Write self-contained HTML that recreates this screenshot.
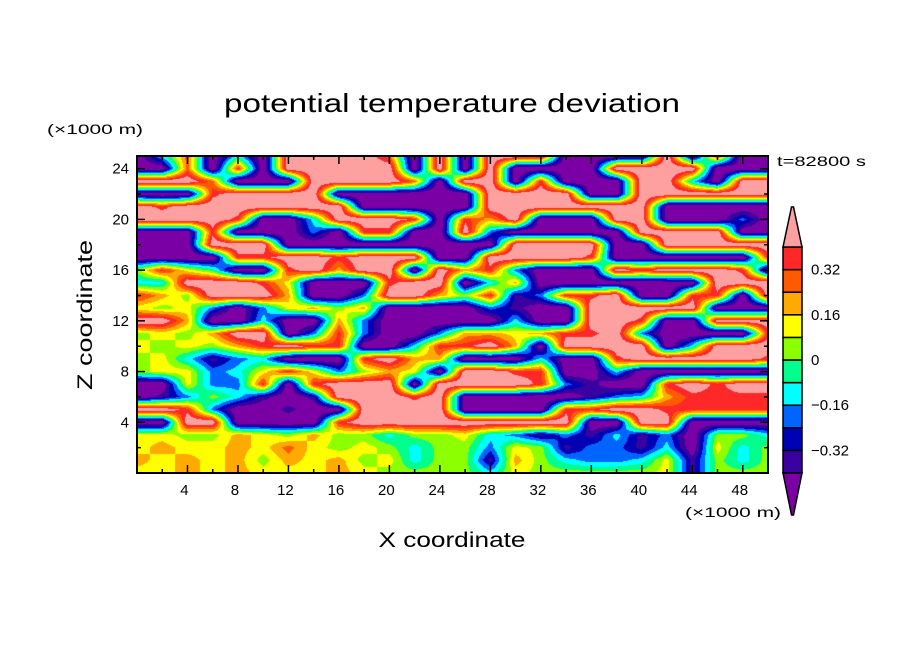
<!DOCTYPE html>
<html><head><meta charset="utf-8"><style>
html,body{margin:0;padding:0;background:#fff;}
#wrap{position:relative;width:904px;height:654px;overflow:hidden;}
canvas{position:absolute;left:137px;top:156px;}
svg{position:absolute;left:0;top:0;}
text{font-family:"Liberation Sans",sans-serif;fill:#000;}
</style></head><body>
<div id="wrap">
<canvas id="field" width="631" height="317"></canvas>
<svg id="svg" width="904" height="654">
<text x="452" y="112" text-anchor="middle" font-size="26" textLength="456" lengthAdjust="spacingAndGlyphs">potential temperature deviation</text>
<text x="47" y="134" font-size="14" textLength="96" lengthAdjust="spacingAndGlyphs">(×1000 m)</text>
<text x="685" y="517" font-size="14" textLength="96" lengthAdjust="spacingAndGlyphs">(×1000 m)</text>
<text x="452" y="547" text-anchor="middle" font-size="21" textLength="147" lengthAdjust="spacingAndGlyphs">X coordinate</text>
<text transform="translate(92,315) rotate(-90)" text-anchor="middle" font-size="21" textLength="150" lengthAdjust="spacingAndGlyphs">Z coordinate</text>
<text x="777" y="166" font-size="14" textLength="89" lengthAdjust="spacingAndGlyphs">t=82800 s</text>
<g id="axes"></g>
<g id="cbar"></g>
</svg>
</div>
<script>
// Field data: rows from z=25 km (top) down to z=0, columns x=0..50 km step 2. Codes 0..b map to levels.
const zRows = [
"049040bbbb90b0bbb0000b0a00",
"0090a0bbbbb0b0b0000bbbb000",
"bbb9000bbbb90bb0a000bb40bb",
"000abbbb000000bbbb00bbbbbb",
"babbbbbbb00000bbbbbbb00000",
"bbbba004bbba0a8b000bb00030",
"000a00030aa00b300000bbbb00",
"000bbb000000000bbbb00bbbbb",
"0000aabbabbb00bbbba000000a",
"6a7500ab8bb0b8a3000babbba0",
"44bbba7000abb0480000000bbb",
"a86bbb8003bb86a13aab00aa0b",
"767303786800003100bbbbb000",
"bb8004008300000400bba00bbb",
"6768bb03a30038878aab30000a",
"76768abaa004aab80bbbb04bbb",
"674134000ab88000400abbbbba",
"677347a736870bbaa004000000",
"00733a0abbb0bbbba3100ababb",
"01364101bbbab000001348aaaa",
"bba300100bbbb0000aabbaaaaa",
"00bb0000abbbbbbbbb00bb0000",
"77668768664667431314130664",
"78778797676466376133140746",
"87878687867466186433471646",
"77878777876666476666671666"
];
const codeValues = [-0.5,-0.36,-0.28,-0.2,-0.12,-0.04,0.04,0.12,0.2,0.28,0.36,0.5];
const levels = [-0.4,-0.32,-0.24,-0.16,-0.08,0,0.08,0.16,0.24,0.32,0.4];
const levelColors = ["#7a00a6","#3a00a0","#0000b4","#0064ff","#00ffff","#00ff8c","#8cff00","#ffff00","#ffaa00","#ff5a00","#ff2828","#ffa0a0"];
const xTicks = [4,8,12,16,20,24,28,32,36,40,44,48];
const zTicks = [4,8,12,16,20,24];
const cbarLabels = ["0.32","0.16","0","\u22120.16","\u22120.32"];
const cbarLabelValues = [0.32,0.16,0,-0.16,-0.32];

const X0=137,X1=768,Y0=156,Y1=473, XMAX=50, ZMAX=25;
const sx = x => X0 + (x/XMAX)*(X1-X0);
const sz = z => Y1 - (z/ZMAX)*(Y1-Y0);

const grid = zRows.map(r => r.split('').map(c => codeValues[parseInt(c,16)]).filter(v => v!==undefined));
const nR = grid.length, nC = Math.min(...grid.map(r=>r.length));
function colorIdx(v){let i=0;while(i<levels.length && v>levels[i]) i++;return i;}
function hex(h){return [parseInt(h.slice(1,3),16),parseInt(h.slice(3,5),16),parseInt(h.slice(5,7),16)];}
const rgb = levelColors.map(hex);

(function(){
  const cv=document.getElementById('field'); const ctx=cv.getContext('2d');
  const W=cv.width,H=cv.height; const img=ctx.createImageData(W,H);
  for(let py=0;py<H;py++){
    const z = ZMAX*(1-(py+0.5)/H);
    const fr = (ZMAX - z)/ZMAX*(nR-1);
    const r0=Math.min(nR-2,Math.floor(fr)), tr=fr-r0;
    for(let px=0;px<W;px++){
      const x = XMAX*(px+0.5)/W;
      const fc = x/XMAX*(nC-1);
      const c0=Math.min(nC-2,Math.floor(fc)), tc=fc-c0;
      const v = (grid[r0][c0]*(1-tc)+grid[r0][c0+1]*tc)*(1-tr)+(grid[r0+1][c0]*(1-tc)+grid[r0+1][c0+1]*tc)*tr;
      const col=rgb[colorIdx(v)]; const k=(py*W+px)*4;
      img.data[k]=col[0];img.data[k+1]=col[1];img.data[k+2]=col[2];img.data[k+3]=255;
    }
  }
  ctx.putImageData(img,0,0);
})();

const NS="http://www.w3.org/2000/svg";
function mk(tag,attrs,parent){const e=document.createElementNS(NS,tag);for(const k in attrs)e.setAttribute(k,attrs[k]);parent.appendChild(e);return e;}
const axes=document.getElementById('axes');
const frame=mk('rect',{x:X0,y:Y0,width:X1-X0,height:Y1-Y0,fill:'none',stroke:'#000','stroke-width':2},axes);


for(let x=2;x<XMAX;x+=2){
  const L = (x%4===0)?8:4;
  const t1=mk('line',{x1:sx(x),x2:sx(x),y1:Y1,y2:Y1-L,stroke:'#000','stroke-width':1.5},axes);
  
  
  const t2=mk('line',{x1:sx(x),x2:sx(x),y1:Y0,y2:Y0+L,stroke:'#000','stroke-width':1.5},axes);
  
  
}
for(let z=2;z<ZMAX;z+=2){
  const L=(z%4===0)?8:4;
  const t1=mk('line',{x1:X0,x2:X0+L,y1:sz(z),y2:sz(z),stroke:'#000','stroke-width':1.5},axes);
  
  
  const t2=mk('line',{x1:X1,x2:X1-L,y1:sz(z),y2:sz(z),stroke:'#000','stroke-width':1.5},axes);
  
  
}
xTicks.forEach(v=>{
  const t=mk('text',{x:sx(v)-3,y:495,'text-anchor':'middle','font-size':15},axes); t.textContent=v;
  
  
});
zTicks.forEach(v=>{
  const t=mk('text',{x:129,y:sz(v)+5,'text-anchor':'end','font-size':15},axes); t.textContent=v;
  
  
});

const cb=document.getElementById('cbar');
const CBX=783,CBW=19,CBT=247,CBB=473;
const cy = v => CBT + (0.4 - v)/0.8*(CBB-CBT);
for(let i=0;i<10;i++){
  const lo=levels[i], hi=levels[i+1];
  const r=mk('rect',{x:CBX,y:cy(hi),width:CBW,height:cy(lo)-cy(hi),fill:levelColors[i+1],stroke:'#000','stroke-width':1.5},cb);
  
  
}
const topArrow=mk('polygon',{points:`${CBX},${CBT} ${CBX+CBW},${CBT} ${CBX+CBW/2+1},207 ${CBX+CBW/2-1},207`,fill:levelColors[11],stroke:'#000','stroke-width':1.5},cb);


const bottomArrow=mk('polygon',{points:`${CBX},${CBB} ${CBX+CBW},${CBB} ${CBX+CBW/2+1},515 ${CBX+CBW/2-1},515`,fill:levelColors[0],stroke:'#000','stroke-width':1.5},cb);


cbarLabels.forEach((s,i)=>{
  const t=mk('text',{x:811,y:cy(cbarLabelValues[i])+5,'font-size':15},cb); t.textContent=s;
  
  
});
</script>
</body></html>
